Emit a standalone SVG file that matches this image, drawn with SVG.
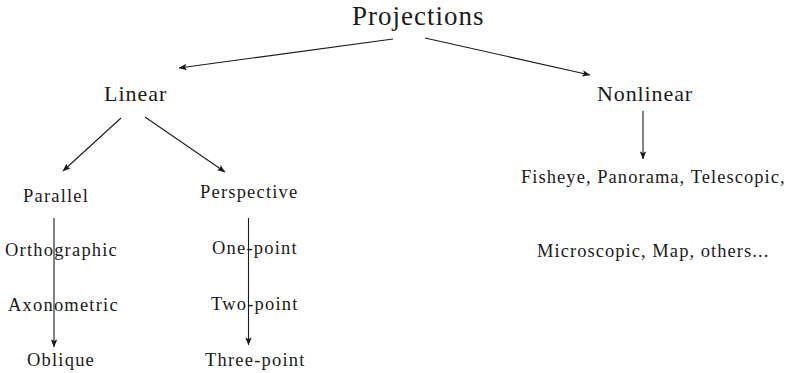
<svg xmlns="http://www.w3.org/2000/svg" width="788" height="373" viewBox="0 0 788 373">
<style>
.c{stroke:#1a1a1a;stroke-width:1.1;fill:none;marker-end:url(#ah)}
</style>
<defs>
<marker id="ah" viewBox="0 0 10 8" refX="9.5" refY="4" markerWidth="8" markerHeight="6.4" markerUnits="userSpaceOnUse" orient="auto">
<path d="M0,0 L10,4 L0,8 L2,4 Z" fill="#1a1a1a"/>
</marker>
</defs>
<rect width="788" height="373" fill="#fff"/>
<g id="connectors">
<line class="c" x1="393" y1="39" x2="179" y2="68"/>
<line class="c" x1="425" y1="38" x2="590" y2="75"/>
<line class="c" x1="121" y1="118" x2="63" y2="171"/>
<line class="c" x1="145" y1="117" x2="225" y2="172"/>
<line class="c" x1="54" y1="218" x2="54" y2="347"/>
<line class="c" x1="248.5" y1="218" x2="248.5" y2="345"/>
<line class="c" x1="643" y1="111" x2="643" y2="159"/>
</g>
<g font-family="'Liberation Serif', serif" fill="#1a1a1a">
<g id="projections"><text x="352" y="25" font-family="'Liberation Serif', serif" font-size="27" letter-spacing="1">Projections</text></g>
<g id="linear"><text x="104" y="101" font-family="'Liberation Serif', serif" font-size="22" letter-spacing="1">Linear</text></g>
<g id="nonlinear"><text x="597" y="101" font-family="'Liberation Serif', serif" font-size="22" letter-spacing="0.9">Nonlinear</text></g>
<g id="parallel"><text x="23" y="201.5" font-family="'Liberation Serif', serif" font-size="18.5" letter-spacing="1.2">Parallel</text></g>
<g id="perspective"><text x="200" y="198" font-family="'Liberation Serif', serif" font-size="18.5" letter-spacing="1.2">Perspective</text></g>
<g id="orthographic"><text x="5" y="256" font-family="'Liberation Serif', serif" font-size="18.5" letter-spacing="1.2">Orthographic</text></g>
<g id="axonometric"><text x="8" y="311" font-family="'Liberation Serif', serif" font-size="18.5" letter-spacing="1.2">Axonometric</text></g>
<g id="oblique"><text x="27" y="365.5" font-family="'Liberation Serif', serif" font-size="18.5" letter-spacing="1.2">Oblique</text></g>
<g id="one-point"><text x="212" y="254" font-family="'Liberation Serif', serif" font-size="18.5" letter-spacing="1.2">One-point</text></g>
<g id="two-point"><text x="211" y="310" font-family="'Liberation Serif', serif" font-size="18.5" letter-spacing="1.2">Two-point</text></g>
<g id="three-point"><text x="205" y="365.5" font-family="'Liberation Serif', serif" font-size="18.5" letter-spacing="1.2">Three-point</text></g>
<g id="fisheye"><text x="521" y="182.5" font-family="'Liberation Serif', serif" font-size="18.5" letter-spacing="1.05">Fisheye, Panorama, Telescopic,</text></g>
<g id="microscopic"><text x="537" y="256.5" font-family="'Liberation Serif', serif" font-size="18.5" letter-spacing="1.05">Microscopic, Map, others...</text></g>
</g>
</svg>
